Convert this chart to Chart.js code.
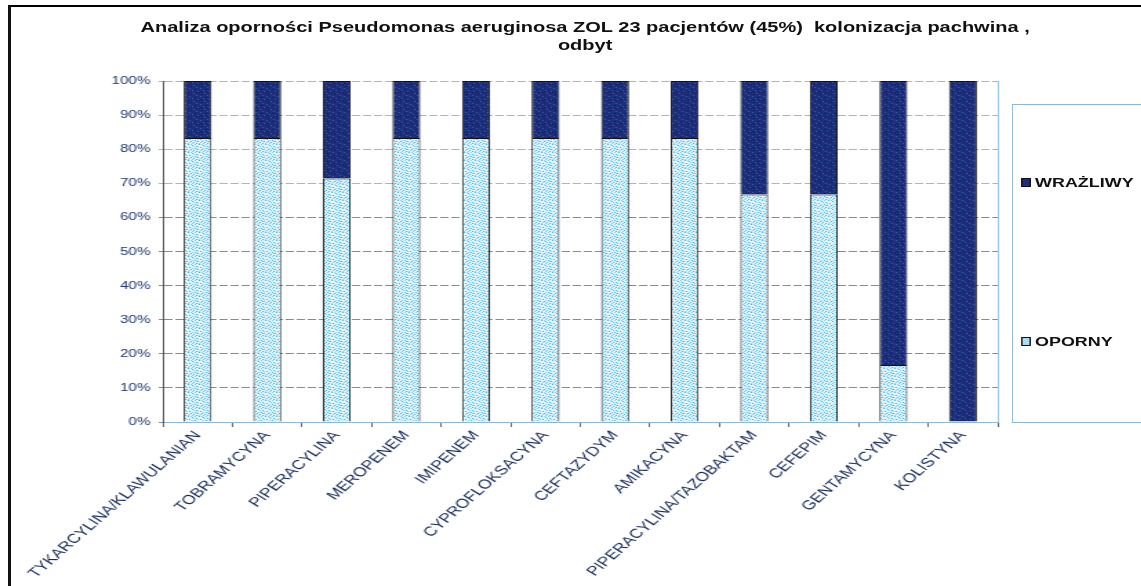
<!DOCTYPE html>
<html>
<head>
<meta charset="utf-8">
<script src="https://cdn.jsdelivr.net/npm/chart.js@4/dist/chart.umd.min.js"></script>
<style>
  html, body { margin: 0; padding: 0; background: #fff; overflow: hidden; }
  #frame { position: absolute; left: 8px; top: 5px; width: 2000px; height: 2000px;
           border-top: 2px solid #000; border-left: 3px solid #111; }
  #wrap { position: absolute; left: 0; top: 0; width: 827px; height: 586px;
          transform: scaleX(1.38); transform-origin: 0 0; }
  #title { position: absolute; left: 0; top: 18px; width: 848px; text-align: center;
           font: bold 14.5px "Liberation Sans", Arial, sans-serif; line-height: 18px; color: #111; }
  #legend { position: absolute; left: 733px; top: 104px; width: 200px; height: 317px;
            border: 1px solid #8fb8d8; }
  .item { position: absolute; left: 6px; font: bold 13px "Liberation Sans", Arial, sans-serif;
          color: #111; white-space: nowrap; }
  .item span { display: inline-block; width: 5px; height: 7px; border: 1px solid #111;
               margin-right: 3px; vertical-align: 0px; }
</style>
</head>
<body>
<div id="frame"></div>
<div id="wrap">
  <canvas id="chart" width="827" height="586"></canvas>
  <div id="title">Analiza oporności Pseudomonas aeruginosa ZOL 23 pacjentów (45%)&nbsp; kolonizacja pachwina ,<br>odbyt</div>
  <div id="legend">
    <div class="item" style="top:70px"><span style="background:#1d2f7c"></span>WRAŻLIWY</div>
    <div class="item" style="top:229px"><span style="background:#a9dcf3"></span>OPORNY</div>
  </div>
</div>
<script>
// dane
const categories = ['TYKARCYLINA/KLAWULANIAN', 'TOBRAMYCYNA', 'PIPERACYLINA', 'MEROPENEM', 'IMIPENEM',
  'CYPROFLOKSACYNA', 'CEFTAZYDYM', 'AMIKACYNA', 'PIPERACYLINA/TAZOBAKTAM', 'CEFEPIM', 'GENTAMYCYNA', 'KOLISTYNA'];
const oporny = [83.3, 83.3, 71.4, 83.3, 83.3, 83.3, 83.3, 83.3, 66.7, 66.7, 16.7, 0];
const wrazliwy = [16.7, 16.7, 28.6, 16.7, 16.7, 16.7, 16.7, 16.7, 33.3, 33.3, 83.3, 100];
const yTicks = [0, 10, 20, 30, 40, 50, 60, 70, 80, 90, 100];

// kropkowane wypełnienie słupków
function makePattern(base, dots) {
  const c = document.createElement('canvas');
  c.width = 8; c.height = 8;
  const g = c.getContext('2d');
  g.fillStyle = base;
  g.fillRect(0, 0, 8, 8);
  dots.forEach(([x, y, col]) => { g.fillStyle = col; g.fillRect(x, y, 1, 1); });
  return g.createPattern(c, 'repeat');
}
const lc = '#3fb4e8', lc2 = '#86cff0';
const lightFill = makePattern('#e2f4fc', [
  [0,0,lc],[3,1,lc],[6,2,lc],[1,3,lc],[5,4,lc],[2,5,lc],[7,5,lc],[4,6,lc],[0,7,lc2],[6,7,lc],
  [2,0,lc2],[4,2,lc2],[7,3,lc2],[3,7,lc2],[5,0,lc2],[1,6,lc2],[6,5,lc2],[3,4,lc2]
]);
const dc = '#2f62a0', dc2 = '#0f1a55';
const darkFill = makePattern('#1d2f7c', [
  [1,0,dc],[5,1,dc2],[3,2,dc],[7,3,dc],[0,4,dc2],[4,5,dc],[2,6,dc2],[6,7,dc],[6,4,dc2],[2,3,dc2]
]);

// prawa krawędź obszaru wykresu
const areaEdge = {
  id: 'areaEdge',
  afterDraw(chart) {
    const { ctx, chartArea: a } = chart;
    ctx.save();
    ctx.strokeStyle = '#9cc8e4';
    ctx.lineWidth = 1;
    ctx.beginPath();
    ctx.moveTo(Math.round(a.right) + 0.5, a.top);
    ctx.lineTo(Math.round(a.right) + 0.5, a.bottom);
    ctx.stroke();
    ctx.restore();
  }
};

new Chart(document.getElementById('chart'), {
  type: 'bar',
  data: {
    labels: categories,
    datasets: [
      { label: 'OPORNY', data: oporny, backgroundColor: lightFill, borderColor: '#111', borderWidth: 1,
        barPercentage: 0.4, categoryPercentage: 1 },
      { label: 'WRAŻLIWY', data: wrazliwy, backgroundColor: darkFill, borderColor: '#111', borderWidth: 1,
        barPercentage: 0.4, categoryPercentage: 1 }
    ]
  },
  options: {
    responsive: false,
    animation: false,
    layout: { padding: { top: 81, right: 104, left: 0, bottom: 0 } },
    plugins: { legend: { display: false }, title: { display: false }, tooltip: { enabled: false } },
    scales: {
      x: {
        stacked: true,
        grid: { drawOnChartArea: false, offset: true, tickLength: 5, color: '#666' },
        border: { color: '#8fb8d8' },
        ticks: {
          autoSkip: false, minRotation: 50, maxRotation: 50, padding: 1,
          color: '#15295a', font: { family: '"Liberation Sans", Arial', size: 13 }
        },
        afterFit: s => { s.height = 164; }
      },
      y: {
        stacked: true, min: 0, max: 100,
        afterBuildTicks: s => { s.ticks = yTicks.map(v => ({ value: v })); },
        grid: {
          tickLength: 3,
          color: c => (c.tick && c.tick.value >= 70 ? '#7cc6e8' : '#8a8a96')
        },
        border: { color: '#555', dash: [6, 2] },
        ticks: {
          padding: 6, color: '#1d3670',
          font: { family: '"Liberation Sans", Arial', size: 11 },
          callback: v => v + '%'
        },
        afterFit: s => { s.width = 118; }
      }
    }
  },
  plugins: [areaEdge]
});
</script>
</body>
</html>
